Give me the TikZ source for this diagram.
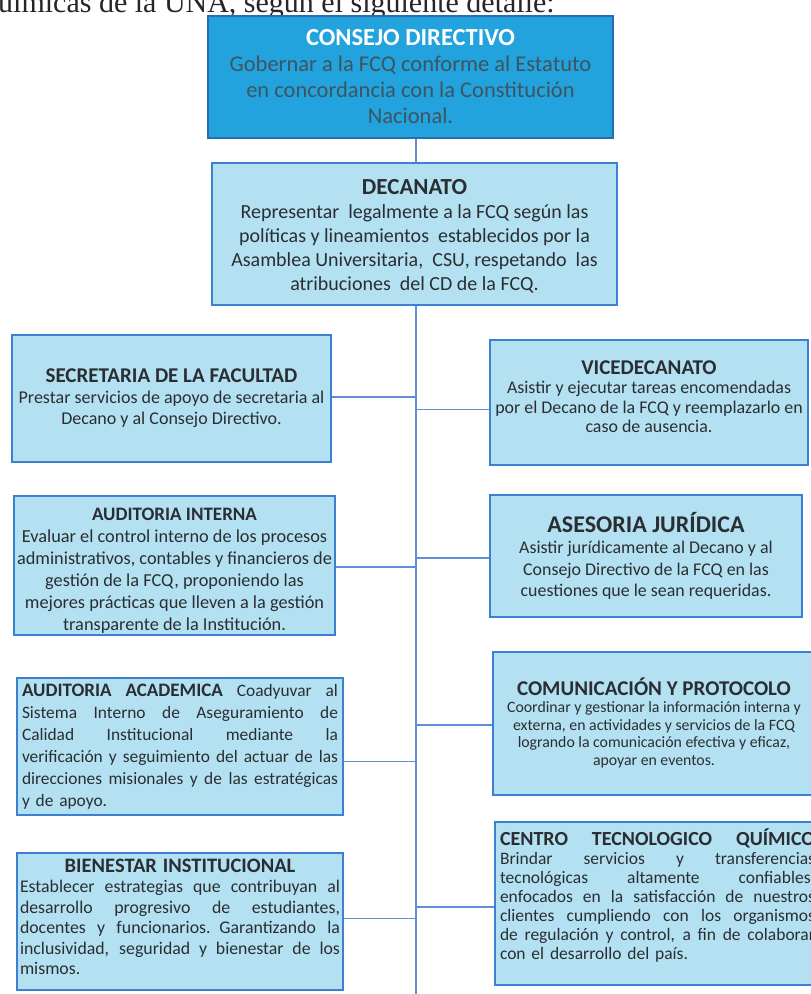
\documentclass[tikz,border=0pt]{standalone}
\usepackage{fontspec}
\setmainfont{Carlito}
\newfontfamily\hdrfont{Liberation Serif}
\definecolor{cdfill}{HTML}{22A3DD}
\definecolor{cdline}{HTML}{2B6CB0}
\definecolor{bxfill}{HTML}{B3E1F1}
\definecolor{bxline}{HTML}{3C80D2}
\definecolor{connc}{HTML}{5F8FD6}
\definecolor{txt}{HTML}{2A2E32}
\definecolor{cdtxt}{HTML}{3E5560}
\newcommand{\jl}[2]{\leavevmode\hbox to #1{\spaceskip=0.22em plus 1fil\relax #2}}
\newcommand{\fsz}[2]{\fontsize{#1}{#2}\selectfont}
\begin{document}
\begin{tikzpicture}[x=1pt,y=-1pt,
  cdbox/.style={draw=cdline, line width=2.5pt, fill=cdfill, inner sep=0pt},
  orgbox/.style={draw=bxline, line width=2.5pt, fill=bxfill, inner sep=0pt},
  lbl/.style={inner sep=0pt, text=txt, align=center},
  jlbl/.style={inner sep=0pt, text=txt, align=left},
  conn/.style={draw=connc, line width=1.8pt}]
\useasboundingbox (0,0) rectangle (811,994);
\clip (0,0) rectangle (811,994);
\fill[white] (0,0) rectangle (811,994);

% header text clipped at the top
\node[anchor=base west, inner sep=0, text=black!85, font=\hdrfont\fsz{30}{32}] (hdr) at (-17,12) {químicas de la UNA, según el siguiente detalle:};

\coordinate (tb) at (416,994);

% boxes
\node[cdbox, minimum width=405pt, minimum height=122pt] (cd) at (410.5,77) {};
\node[orgbox, minimum width=405pt, minimum height=142pt] (dec) at (414.5,234) {};
\node[orgbox, minimum width=319pt, minimum height=127pt] (sec) at (171.5,398.5) {};
\node[orgbox, minimum width=321pt, minimum height=139pt] (ai) at (174.5,565.5) {};
\node[orgbox, minimum width=326pt, minimum height=137pt] (aa) at (180,746.5) {};
\node[orgbox, minimum width=326pt, minimum height=137pt] (bi) at (180,921.5) {};
\node[orgbox, minimum width=318pt, minimum height=125pt] (vd) at (649,402.5) {};
\node[orgbox, minimum width=312pt, minimum height=122pt] (as) at (646,556) {};
\node[orgbox, minimum width=322pt, minimum height=143pt] (cp) at (654,723.5) {};
\node[orgbox, minimum width=325pt, minimum height=163pt] (ct) at (657.5,903.5) {};

% texts
\node[lbl, text=cdtxt, font=\fsz{22.5}{26}] (cdt) at (410.5,77)
 {{\color{white}\fsz{24.5}{26}\bfseries CONSEJO DIRECTIVO}\\Gobernar a la FCQ conforme al Estatuto\\en concordancia con la Constitución\\Nacional.};

\node[lbl, font=\fsz{20}{24}] (dect) at (414.5,236.5)
 {{\fsz{23}{24}\bfseries DECANATO}\\Representar\ \ legalmente a la FCQ según las\\políticas y lineamientos\ \ establecidos por la\\Asamblea Universitaria,\ \ CSU, respetando\ \ las\\atribuciones\ \ del CD de la FCQ.};

\node[lbl, font=\fsz{18}{21}] (sect) at (171.5,398.5)
 {{\fsz{21}{21}\bfseries SECRETARIA DE LA FACULTAD}\\Prestar servicios de apoyo de secretaria al\\Decano y al Consejo Directivo.};

\node[lbl, font=\fsz{18.3}{22}] (ait) at (174.5,571)
 {{\fsz{19}{22}\bfseries AUDITORIA INTERNA}\\Evaluar el control interno de los procesos\\administrativos, contables y financieros de\\gestión de la FCQ, proponiendo las\\mejores prácticas que lleven a la gestión\\transparente de la Institución.};

\node[jlbl, text width=316pt, font=\fsz{17.4}{22}] (aat) at (180,746.5)
 {\jl{316pt}{{\fsz{19}{22}\bfseries AUDITORIA ACADEMICA} Coadyuvar al}\\
  \jl{316pt}{Sistema Interno de Aseguramiento de}\\
  \jl{316pt}{Calidad Institucional mediante la}\\
  \jl{316pt}{verificación y seguimiento del actuar de las}\\
  \jl{316pt}{direcciones misionales y de las estratégicas}\\
  y de apoyo.};

\node[jlbl, text width=320pt, font=\fsz{17.8}{20.5}] (bit) at (180,917)
 {\makebox[320pt]{\fsz{20.5}{20.5}\bfseries BIENESTAR INSTITUCIONAL}\\
  \jl{320pt}{Establecer estrategias que contribuyan al}\\
  \jl{320pt}{desarrollo progresivo de estudiantes,}\\
  \jl{320pt}{docentes y funcionarios. Garantizando la}\\
  \jl{320pt}{inclusividad, seguridad y bienestar de los}\\
  mismos.};

\node[lbl, font=\fsz{17.9}{19.5}] (vdt) at (649,396.5)
 {{\fsz{21}{19.5}\bfseries VICEDECANATO}\\Asistir y ejecutar tareas encomendadas\\por el Decano de la FCQ y reemplazarlo en\\caso de ausencia.};

\node[lbl, font=\fsz{17.9}{21.5}] (ast) at (646,556)
 {{\fsz{24}{21.5}\bfseries ASESORIA JURÍDICA}\\Asistir jurídicamente al Decano y al\\Consejo Directivo de la FCQ en las\\cuestiones que le sean requeridas.};

\node[lbl, font=\fsz{15.8}{17.5}] (cpt) at (654,722.5)
 {{\fsz{21}{17.5}\bfseries COMUNICACIÓN Y PROTOCOLO}\\Coordinar y gestionar la información interna y\\externa, en actividades y servicios de la FCQ\\logrando la comunicación efectiva y eficaz,\\apoyar en eventos.};

\node[jlbl, text width=315pt, font=\fsz{17.5}{19}] (ctt) at (657.5,895.5)
 {\jl{315pt}{\fsz{20}{19}\bfseries CENTRO TECNOLOGICO QUÍMICO}\\
  \jl{315pt}{Brindar servicios y transferencias}\\
  \jl{315pt}{tecnológicas altamente confiables,}\\
  \jl{315pt}{enfocados en la satisfacción de nuestros}\\
  \jl{315pt}{clientes cumpliendo con los organismos}\\
  \jl{315pt}{de regulación y control, a fin de colaborar}\\
  con el desarrollo del país.};

% connectors
\draw[conn] (cd.south -| tb) -- (dec.north -| tb);
\draw[conn] (dec.south -| tb) -- (tb);
\draw[conn] ([yshift=1.5pt]sec.east) -- ([yshift=1.5pt]sec.east -| tb);
\draw[conn] ([yshift=-1.5pt]ai.east) -- ([yshift=-1.5pt]ai.east -| tb);
\draw[conn] ([yshift=-15pt]aa.east) -- ([yshift=-15pt]aa.east -| tb);
\draw[conn] ([yshift=3pt]bi.east) -- ([yshift=3pt]bi.east -| tb);
\draw[conn] ([yshift=-7pt]vd.west) -- ([yshift=-7pt]vd.west -| tb);
\draw[conn] ([yshift=-2pt]as.west) -- ([yshift=-2pt]as.west -| tb);
\draw[conn] ([yshift=-1.5pt]cp.west) -- ([yshift=-1.5pt]cp.west -| tb);
\draw[conn] ([yshift=-3.5pt]ct.west) -- ([yshift=-3.5pt]ct.west -| tb);
\end{tikzpicture}
\end{document}
